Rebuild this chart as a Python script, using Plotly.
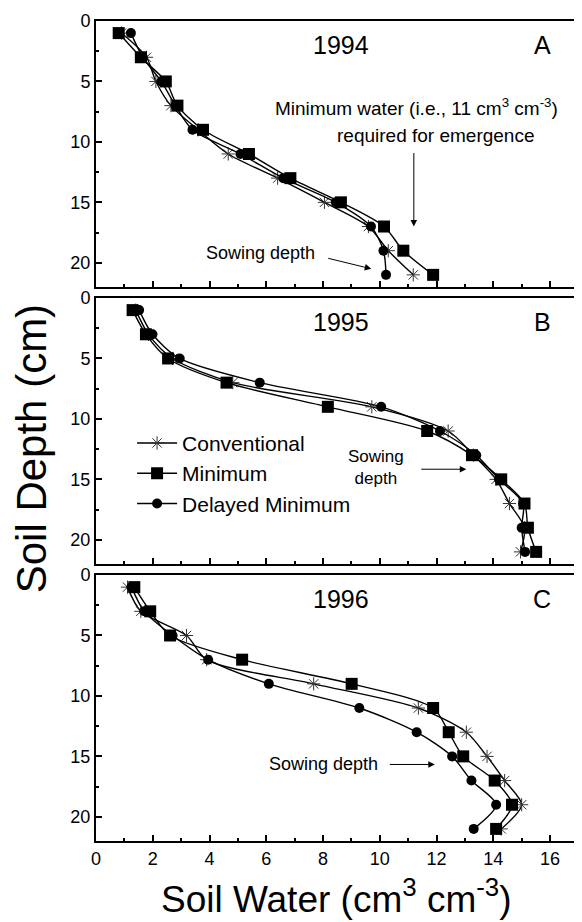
import plotly.graph_objects as go
from plotly.subplots import make_subplots

# sampling depths (cm)
depth = [1, 3, 5, 7, 9, 11, 13, 15, 17, 19, 21]

# soil water (cm3 cm-3)
conv_1994 = [0.9, 1.78, 2.11, 2.64, 3.6, 4.66, 6.4, 8.05, 9.6, 10.3, 11.18]
mini_1994 = [0.8, 1.58, 2.46, 2.87, 3.77, 5.39, 6.85, 8.63, 10.15, 10.83, 11.88]
dely_1994 = [1.23, 1.65, 2.3, 2.8, 3.4, 5.09, 6.6, 8.45, 9.69, 10.13, 10.22]

conv_1995 = [1.4, 1.85, 2.7, 4.82, 9.72, 12.41, 13.3, 14.1, 14.57, 15.1, 14.96]
mini_1995 = [1.29, 1.76, 2.54, 4.6, 8.17, 11.67, 13.25, 14.28, 15.1, 15.22, 15.51]
dely_1995 = [1.52, 1.99, 2.95, 5.77, 10.05, 12.12, 13.4, 14.2, 15.05, 15.0, 15.12]

conv_1996 = [1.11, 1.58, 3.19, 3.9, 7.67, 11.36, 13.05, 13.78, 14.4, 15.0, 14.28]
mini_1996 = [1.35, 1.91, 2.61, 5.15, 9.01, 11.88, 12.43, 12.94, 14.05, 14.66, 14.1]
dely_1996 = [1.25, 1.7, 2.7, 3.95, 6.09, 9.28, 11.3, 12.55, 13.23, 14.1, 13.31]

years = ['1994', '1995', '1996']
letters = ['A', 'B', 'C']
names = ['Conventional', 'Minimum', 'Delayed Minimum']
data = [
    [conv_1994, mini_1994, dely_1994],
    [conv_1995, mini_1995, dely_1995],
    [conv_1996, mini_1996, dely_1996],
]

FONT = 'Liberation Sans, Arial, sans-serif'

fig = make_subplots(rows=3, cols=1, vertical_spacing=0.0135)

markers = [
    dict(symbol='asterisk-open', size=11, color='#333', line=dict(width=1, color='#333')),
    dict(symbol='square', size=12, color='black'),
    dict(symbol='circle', size=10, color='black'),
]

for r in range(3):
    for k in range(3):
        fig.add_trace(
            go.Scatter(
                x=data[r][k], y=depth,
                mode='lines+markers',
                name=names[k],
                legendgroup=names[k],
                showlegend=(r == 1),
                line=dict(color='black', width=1.4, shape='spline', smoothing=0.8),
                marker=markers[k],
            ),
            row=r + 1, col=1
        )

for r in range(3):
    fig.update_xaxes(
        range=[0, 16.95], dtick=2, tick0=0,
        ticks='inside', ticklen=6, tickwidth=2, tickcolor='black',
        minor=dict(dtick=1, ticks='inside', ticklen=3, tickwidth=1.5, tickcolor='black'),
        showline=True, linecolor='black', linewidth=2, mirror=True,
        showgrid=False, zeroline=False,
        showticklabels=(r == 2),
        tickfont=dict(size=18, family=FONT, color='black'),
        row=r + 1, col=1
    )
    fig.update_yaxes(
        range=[22, 0], dtick=5, tick0=0,
        ticks='inside', ticklen=6, tickwidth=2, tickcolor='black',
        minor=dict(dtick=2.5, ticks='inside', ticklen=3, tickwidth=1.5, tickcolor='black'),
        showline=True, linecolor='black', linewidth=2, mirror=True,
        showgrid=False, zeroline=False,
        tickfont=dict(size=18, family=FONT, color='black'),
        row=r + 1, col=1
    )

annotations = []
axes = [('x', 'y'), ('x2', 'y2'), ('x3', 'y3')]
for r in range(3):
    xr, yr = axes[r]
    annotations.append(dict(x=8.65, y=2.0, xref=xr, yref=yr, text=years[r], showarrow=False,
                            font=dict(size=25, family=FONT, color='black')))
    annotations.append(dict(x=15.72, y=2.0, xref=xr, yref=yr, text=letters[r], showarrow=False,
                            font=dict(size=25, family=FONT, color='black')))

small = dict(size=18, family=FONT, color='black')
arrow = dict(showarrow=True, arrowhead=2, arrowsize=1.3, arrowwidth=1, arrowcolor='black',
             axref='x', ayref='y', text='')

# panel A texts and arrows
annotations += [
    dict(x=11.29, y=7.1, xref='x', yref='y', showarrow=False,
         font=dict(size=19, family=FONT, color='black'),
         text='Minimum water (i.e., 11 cm<sup>3</sup> cm<sup>-3</sup>)'),
    dict(x=11.99, y=9.45, xref='x', yref='y', showarrow=False,
         font=dict(size=19, family=FONT, color='black'),
         text='required for emergence'),
    dict(arrow, x=11.2, y=17.0, ax=11.2, ay=10.8, xref='x', yref='y'),
    dict(x=5.81, y=19.2, xref='x', yref='y', showarrow=False, font=small, text='Sowing depth'),
    dict(arrow, x=9.7, y=20.5, ax=8.13, ay=19.6, xref='x', yref='y'),
]
# panel B
annotations += [
    dict(x=9.86, y=14.0, xref='x2', yref='y2', showarrow=False,
         font=dict(size=17, family=FONT, color='black'), text='Sowing<br>depth'),
    dict(arrow, x=13.05, y=14.16, ax=11.41, ay=14.16, xref='x2', yref='y2', axref='x2', ayref='y2'),
]
# panel C
annotations += [
    dict(x=8.02, y=15.67, xref='x3', yref='y3', showarrow=False, font=small, text='Sowing depth'),
    dict(arrow, x=11.94, y=15.67, ax=10.3, ay=15.67, xref='x3', yref='y3', axref='x3', ayref='y3'),
]
# axis titles
annotations += [
    dict(x=-0.1346, y=0.478, xref='paper', yref='paper', xanchor='center', yanchor='middle',
         textangle=-90, showarrow=False,
         text='Soil Depth (cm)', font=dict(size=42, family=FONT, color='black')),
    dict(x=0.499, y=-0.068, xref='paper', yref='paper', xanchor='center', yanchor='middle',
         showarrow=False,
         text='Soil Water (cm<sup>3</sup> cm<sup>-3</sup>)',
         font=dict(size=37, family=FONT, color='black')),
]

# page body adds an 8px margin, so the figure is drawn 8px smaller
fig.update_layout(
    width=574, height=914,
    margin=dict(l=88, r=3, t=5, b=81),
    paper_bgcolor='white', plot_bgcolor='white',
    font=dict(family=FONT, color='black'),
    annotations=annotations,
    showlegend=True,
    legend=dict(x=0.075, y=0.51, xanchor='left', yanchor='top', tracegroupgap=0,
                bgcolor='rgba(0,0,0,0)', font=dict(size=21, family=FONT, color='black'),
                itemwidth=40),
)

fig.write_html("out.html")
